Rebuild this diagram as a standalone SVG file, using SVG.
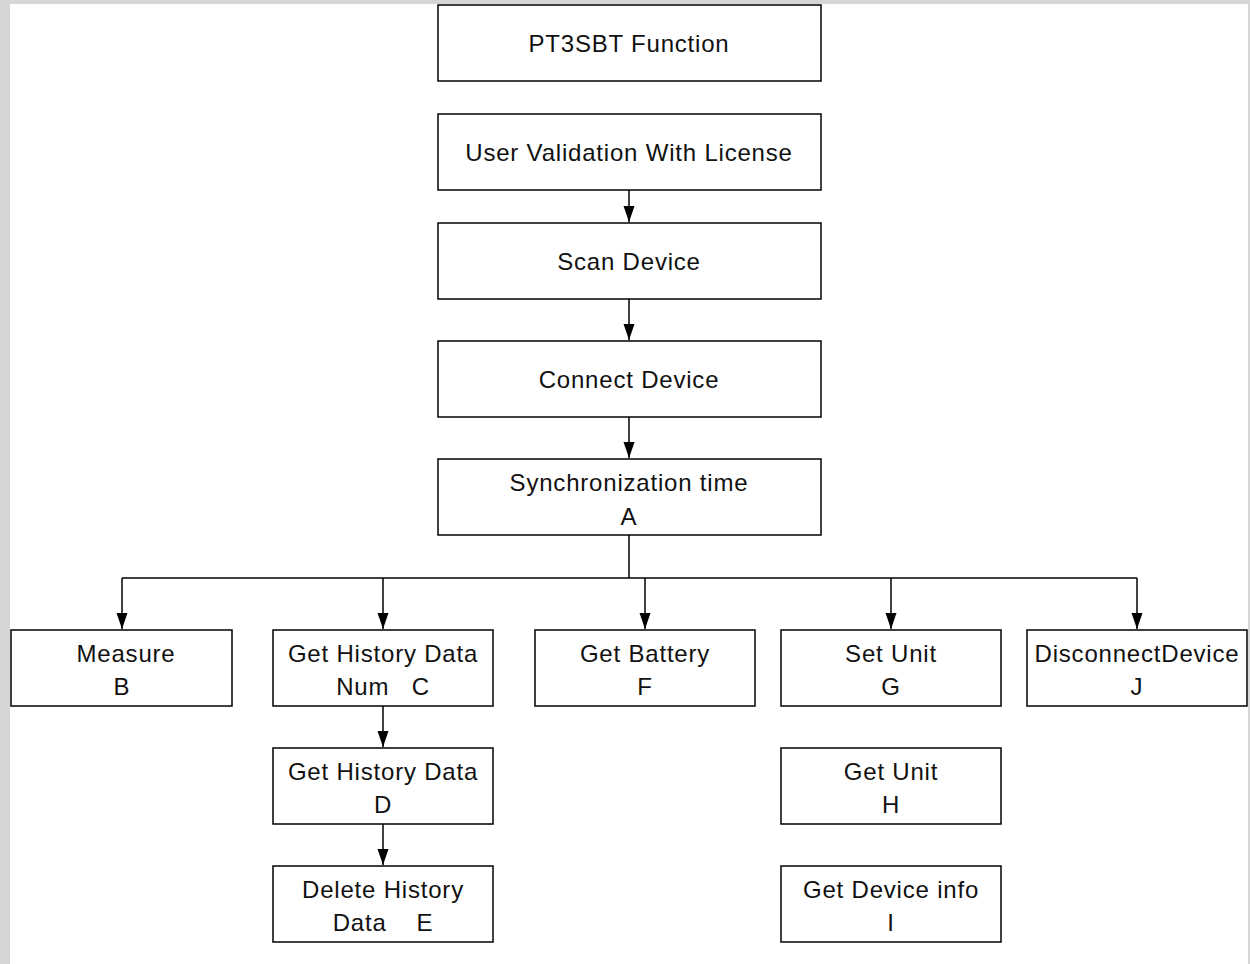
<svg xmlns="http://www.w3.org/2000/svg" width="1250" height="964" viewBox="0 0 1250 964">
<style>
.box{fill:#fff;stroke:#000;stroke-width:1.5}
.t{font-family:"Liberation Sans",Arial,sans-serif;font-size:24px;letter-spacing:0.8px;fill:#111;text-anchor:middle;dominant-baseline:central}
.c{fill:none;stroke:#000;stroke-width:1.5}
</style>
<defs>
<marker id="ah" markerWidth="16" markerHeight="12" refX="16" refY="6" orient="auto" markerUnits="userSpaceOnUse" viewBox="0 0 16 12">
<path d="M0,0.5 L16,6 L0,11.5 Z" fill="#000"/>
</marker>
</defs>
<rect x="0" y="0" width="1250" height="964" fill="#d6d6d8"/>
<rect x="10" y="4" width="1238" height="960" fill="#fff"/>
<g id="connectors">
<path class="c" d="M629,190 V222" marker-end="url(#ah)"/>
<path class="c" d="M629,299 V340" marker-end="url(#ah)"/>
<path class="c" d="M629,417 V458" marker-end="url(#ah)"/>
<path class="c" d="M629,535 V578 M122,578 H1137"/>
<path class="c" d="M122,578 V629" marker-end="url(#ah)"/>
<path class="c" d="M383,578 V629" marker-end="url(#ah)"/>
<path class="c" d="M645,578 V629" marker-end="url(#ah)"/>
<path class="c" d="M891,578 V629" marker-end="url(#ah)"/>
<path class="c" d="M1137,578 V629" marker-end="url(#ah)"/>
<path class="c" d="M383,706 V747" marker-end="url(#ah)"/>
<path class="c" d="M383,824 V865" marker-end="url(#ah)"/>
</g>
<g id="n-title"><rect class="box" x="438" y="5" width="383" height="76"/><text class="t" x="629" y="43">PT3SBT Function</text></g>
<g id="n-user"><rect class="box" x="438" y="114" width="383" height="76"/><text class="t" x="629" y="152">User Validation With License</text></g>
<g id="n-scan"><rect class="box" x="438" y="223" width="383" height="76"/><text class="t" x="629" y="261">Scan Device</text></g>
<g id="n-connect"><rect class="box" x="438" y="341" width="383" height="76"/><text class="t" x="629" y="379">Connect Device</text></g>
<g id="n-sync"><rect class="box" x="438" y="459" width="383" height="76"/><text class="t" x="629" y="482">Synchronization time</text><text class="t" x="629" y="516">A</text></g>
<g id="n-measure"><rect class="box" x="11" y="630" width="221" height="76"/><text class="t" x="126" y="653">Measure</text><text class="t" x="122" y="686">B</text></g>
<g id="n-histnum"><rect class="box" x="273" y="630" width="220" height="76"/><text class="t" x="383" y="653">Get History Data</text><text class="t" x="383" y="686" xml:space="preserve">Num   C</text></g>
<g id="n-battery"><rect class="box" x="535" y="630" width="220" height="76"/><text class="t" x="645" y="653">Get Battery</text><text class="t" x="645" y="686">F</text></g>
<g id="n-setunit"><rect class="box" x="781" y="630" width="220" height="76"/><text class="t" x="891" y="653">Set Unit</text><text class="t" x="891" y="686">G</text></g>
<g id="n-disconnect"><rect class="box" x="1027" y="630" width="220" height="76"/><text class="t" x="1137" y="653">DisconnectDevice</text><text class="t" x="1137" y="686">J</text></g>
<g id="n-histdata"><rect class="box" x="273" y="748" width="220" height="76"/><text class="t" x="383" y="771">Get History Data</text><text class="t" x="383" y="804">D</text></g>
<g id="n-delete"><rect class="box" x="273" y="866" width="220" height="76"/><text class="t" x="383" y="889">Delete History</text><text class="t" x="383" y="922" xml:space="preserve">Data    E</text></g>
<g id="n-getunit"><rect class="box" x="781" y="748" width="220" height="76"/><text class="t" x="891" y="771">Get Unit</text><text class="t" x="891" y="804">H</text></g>
<g id="n-info"><rect class="box" x="781" y="866" width="220" height="76"/><text class="t" x="891" y="889">Get Device info</text><text class="t" x="891" y="922">I</text></g>
</svg>
